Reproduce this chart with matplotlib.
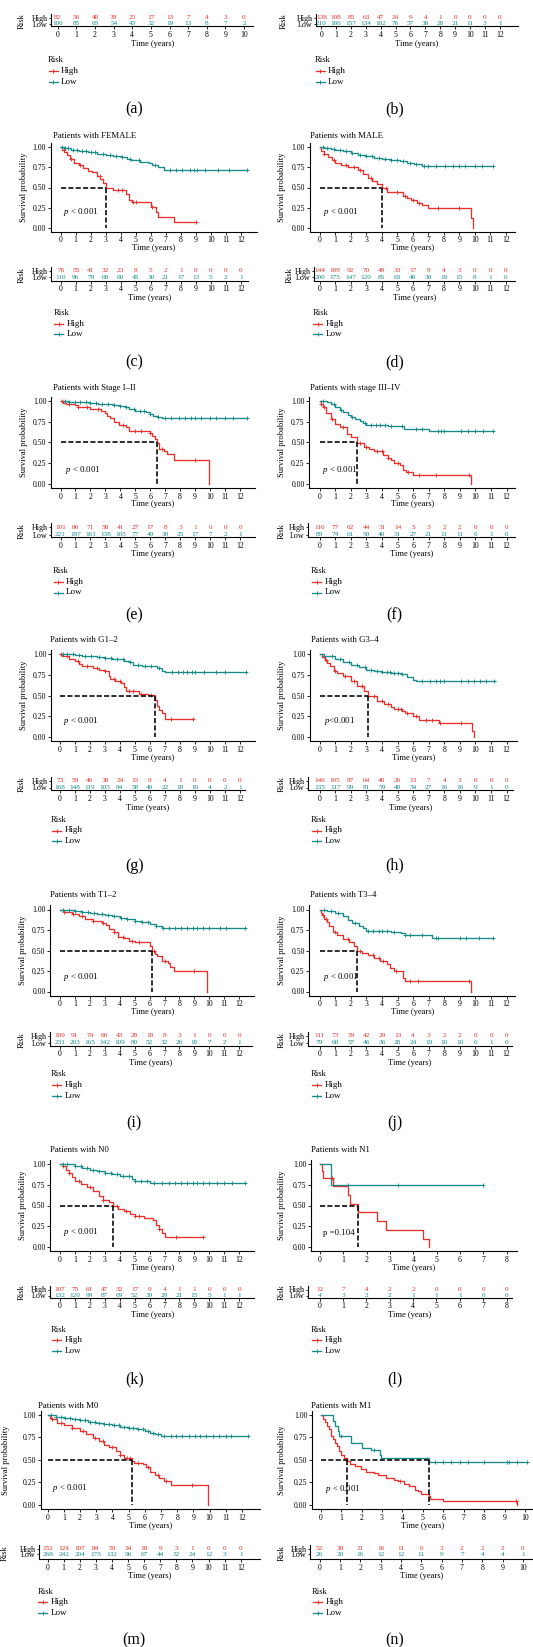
import matplotlib
matplotlib.use("Agg")
import matplotlib.pyplot as plt
import numpy as np

# ======================= DATA =======================
RISK_GROUPS = ["High", "Low"]

A_TMAX = 10
A_RISK_HIGH = [82, 56, 48, 39, 25, 17, 13, 7, 4, 3, 0]
A_RISK_LOW = [100, 85, 65, 54, 43, 32, 19, 13, 8, 7, 2]

B_TMAX = 12
B_RISK_HIGH = [138, 108, 85, 63, 47, 24, 9, 4, 1, 0, 0, 0, 0]
B_RISK_LOW = [210, 186, 157, 134, 102, 76, 57, 38, 28, 21, 11, 3, 1]

C_TITLE = "Patients with FEMALE"
C_TMAX = 12
C_HIGH_T = [0, 0.1, 0.25, 0.45, 0.62, 0.9, 1.2, 1.5, 1.8, 2.1, 2.4, 2.65, 2.8, 3.02, 3.5, 4.35, 4.55, 4.75, 6.0, 6.35, 6.5, 7.55, 9.0]
C_HIGH_S = [1.0, 0.97, 0.94, 0.90, 0.85, 0.81, 0.78, 0.74, 0.71, 0.69, 0.64, 0.60, 0.55, 0.49, 0.47, 0.42, 0.35, 0.32, 0.26, 0.20, 0.13, 0.065, 0.065]
C_LOW_T = [0, 0.3, 0.7, 1.2, 1.8, 2.4, 3.0, 3.5, 4.0, 4.4, 4.7, 5.3, 5.9, 6.1, 6.5, 6.9, 12.4]
C_LOW_S = [1.0, 0.99, 0.97, 0.96, 0.94, 0.92, 0.90, 0.89, 0.88, 0.86, 0.84, 0.82, 0.80, 0.78, 0.76, 0.72, 0.72]
C_HIGH_CENS = [0.2, 0.7, 1.3, 2.6, 3.8, 4.1, 4.8, 5.0, 6.1, 9.0]
C_LOW_CENS = [0.1, 0.3, 0.5, 0.8, 1.1, 1.4, 1.7, 2.0, 2.3, 2.8, 3.3, 3.7, 4.1, 4.6, 5.2, 6.3, 7.3, 7.7, 8.1, 8.6, 8.9, 9.1, 9.6, 10.5, 11.2, 12.4]
C_MEDIAN = [3.02]
C_PVAL = "$p$ < 0.001"
C_RISK_HIGH = [76, 55, 41, 32, 23, 8, 5, 2, 1, 0, 0, 0, 0]
C_RISK_LOW = [110, 96, 79, 68, 60, 45, 30, 21, 17, 13, 5, 2, 1]

D_TITLE = "Patients with MALE"
D_TMAX = 12
D_HIGH_T = [0, 0.1, 0.3, 0.55, 0.8, 1.0, 1.4, 1.8, 2.5, 2.8, 3.1, 3.4, 3.7, 4.04, 4.35, 5.35, 5.6, 5.9, 6.3, 6.6, 7.0, 7.3, 9.78, 9.9]
D_HIGH_S = [1.0, 0.96, 0.92, 0.88, 0.84, 0.81, 0.78, 0.75, 0.72, 0.67, 0.62, 0.58, 0.54, 0.49, 0.44, 0.40, 0.37, 0.34, 0.31, 0.28, 0.25, 0.24, 0.12, 0.0]
D_LOW_T = [0, 0.3, 0.7, 1.0, 1.5, 2.0, 2.5, 3.0, 3.5, 4.0, 4.6, 5.2, 5.6, 6.1, 6.6, 11.2]
D_LOW_S = [1.0, 0.99, 0.98, 0.97, 0.95, 0.93, 0.91, 0.89, 0.87, 0.85, 0.84, 0.83, 0.81, 0.79, 0.77, 0.77]
D_HIGH_CENS = [0.3, 0.9, 1.7, 2.2, 2.6, 3.3, 4.3, 5.0, 5.5, 6.0, 6.4, 7.6, 9.0]
D_LOW_CENS = [0.2, 0.5, 0.9, 1.3, 1.7, 2.1, 2.6, 3.0, 3.4, 3.8, 4.2, 4.6, 5.0, 5.4, 5.8, 6.2, 6.7, 7.0, 7.5, 8.1, 8.6, 9.0, 9.4, 10.0, 10.5, 11.2]
D_MEDIAN = [4.04]
D_PVAL = "$p$ < 0.001"
D_RISK_HIGH = [144, 109, 92, 70, 49, 33, 17, 9, 4, 3, 0, 0, 0]
D_RISK_LOW = [200, 175, 147, 120, 85, 63, 48, 30, 19, 15, 8, 1, 0]

E_TITLE = "Patients with Stage I\u2013II"
E_TMAX = 12
E_HIGH_T = [0, 0.15, 0.35, 1.0, 1.2, 1.5, 2.0, 2.7, 3.0, 3.1, 3.3, 3.6, 3.9, 4.4, 4.6, 5.7, 5.95, 6.15, 6.3, 6.45, 6.6, 6.9, 7.1, 7.6, 9.9]
E_HIGH_S = [1.0, 0.97, 0.96, 0.95, 0.93, 0.92, 0.90, 0.88, 0.85, 0.82, 0.79, 0.75, 0.71, 0.68, 0.64, 0.63, 0.61, 0.57, 0.54, 0.49, 0.42, 0.40, 0.36, 0.28, 0.0]
E_LOW_T = [0, 0.5, 1.5, 2.0, 2.5, 3.0, 3.5, 4.0, 4.3, 4.6, 5.0, 5.7, 6.0, 6.2, 6.5, 6.8, 12.5]
E_LOW_S = [1.0, 0.99, 0.98, 0.97, 0.965, 0.96, 0.95, 0.94, 0.92, 0.90, 0.88, 0.86, 0.84, 0.82, 0.80, 0.79, 0.79]
E_HIGH_CENS = [0.1, 0.6, 1.2, 1.8, 2.5, 4.2, 5.0, 5.4, 6.0, 6.8, 9.0]
E_LOW_CENS = [0.3, 0.6, 1.0, 1.3, 1.7, 2.0, 2.4, 2.8, 3.2, 3.6, 4.0, 4.4, 4.9, 5.3, 5.6, 6.0, 6.5, 7.0, 7.4, 7.9, 8.3, 8.7, 9.0, 9.4, 10.0, 10.4, 11.0, 11.5, 12.5]
E_MEDIAN = [6.45]
E_PVAL = "$p$ < 0.001"
E_RISK_HIGH = [101, 86, 71, 58, 41, 27, 17, 8, 3, 1, 0, 0, 0]
E_RISK_LOW = [221, 197, 161, 138, 105, 77, 49, 30, 25, 17, 7, 2, 1]

F_TITLE = "Patients with stage III\u2013IV"
F_TMAX = 12
F_HIGH_T = [0, 0.1, 0.22, 0.44, 0.7, 0.98, 1.3, 1.75, 2.0, 2.4, 2.84, 3.2, 3.5, 4.04, 4.36, 4.6, 4.8, 5.13, 5.35, 5.56, 6.0, 9.71]
F_HIGH_S = [1.0, 0.96, 0.92, 0.85, 0.78, 0.72, 0.68, 0.60, 0.56, 0.49, 0.44, 0.42, 0.40, 0.35, 0.31, 0.28, 0.245, 0.22, 0.16, 0.14, 0.11, 0.0]
F_LOW_T = [0, 0.45, 0.7, 1.0, 1.3, 1.5, 1.8, 2.0, 2.3, 2.6, 2.8, 3.0, 4.4, 5.0, 5.4, 7.05, 11.1]
F_LOW_S = [1.0, 0.99, 0.96, 0.93, 0.89, 0.86, 0.83, 0.80, 0.78, 0.76, 0.73, 0.71, 0.70, 0.69, 0.66, 0.63, 0.63]
F_HIGH_CENS = [0.1, 0.3, 0.8, 1.5, 2.6, 3.0, 3.7, 4.0, 4.4, 5.0, 5.7, 6.4, 7.5, 9.6]
F_LOW_CENS = [0.2, 0.9, 1.4, 2.1, 2.9, 3.3, 3.6, 3.9, 4.2, 4.6, 5.3, 6.2, 6.6, 7.6, 7.8, 8.0, 9.1, 9.5, 10.0, 10.5, 11.1]
F_MEDIAN = [2.4]
F_PVAL = "$p$ < 0.001"
F_RISK_HIGH = [116, 77, 62, 44, 31, 14, 5, 3, 2, 2, 0, 0, 0]
F_RISK_LOW = [89, 74, 61, 50, 40, 31, 27, 21, 11, 11, 6, 1, 0]

G_TITLE = "Patients with G1\u20132"
G_TMAX = 12
G_HIGH_T = [0, 0.15, 0.3, 0.6, 1.0, 1.3, 1.5, 2.0, 2.2, 2.6, 3.0, 3.25, 3.35, 3.7, 4.1, 4.25, 4.4, 5.3, 5.9, 6.35, 6.5, 6.6, 6.8, 7.0, 8.9]
G_HIGH_S = [1.0, 0.98, 0.97, 0.94, 0.91, 0.88, 0.86, 0.85, 0.83, 0.81, 0.79, 0.74, 0.70, 0.67, 0.65, 0.60, 0.55, 0.52, 0.51, 0.45, 0.38, 0.33, 0.29, 0.22, 0.22]
G_LOW_T = [0, 0.5, 1.0, 1.5, 2.0, 2.5, 3.0, 3.5, 4.3, 4.6, 4.9, 5.5, 6.2, 6.5, 6.8, 7.0, 12.4]
G_LOW_S = [1.0, 0.995, 0.99, 0.98, 0.97, 0.96, 0.95, 0.94, 0.92, 0.90, 0.87, 0.86, 0.85, 0.83, 0.80, 0.78, 0.78]
G_HIGH_CENS = [0.1, 0.5, 1.2, 1.8, 2.5, 3.0, 3.6, 4.0, 4.6, 4.9, 5.4, 6.1, 7.4, 8.9]
G_LOW_CENS = [0.2, 0.5, 0.9, 1.3, 1.7, 2.1, 2.6, 3.0, 3.4, 3.8, 4.2, 4.7, 5.2, 5.7, 6.1, 6.6, 7.5, 7.9, 8.2, 8.5, 8.8, 9.0, 9.6, 10.4, 11.0, 12.4]
G_MEDIAN = [6.35]
G_PVAL = "$p$ < 0.001"
G_RISK_HIGH = [73, 59, 46, 38, 24, 15, 9, 4, 1, 0, 0, 0, 0]
G_RISK_LOW = [168, 148, 119, 103, 84, 58, 40, 22, 18, 10, 4, 2, 1]

H_TITLE = "Patients with G3\u20134"
H_TMAX = 12
H_HIGH_T = [0, 0.15, 0.33, 0.5, 0.65, 0.9, 1.1, 1.5, 2.0, 2.4, 2.85, 3.1, 3.7, 4.15, 4.6, 4.8, 5.3, 5.5, 6.0, 6.35, 7.65, 9.75, 9.9]
H_HIGH_S = [1.0, 0.96, 0.93, 0.89, 0.85, 0.80, 0.77, 0.73, 0.67, 0.61, 0.55, 0.49, 0.44, 0.40, 0.36, 0.34, 0.31, 0.29, 0.26, 0.21, 0.17, 0.08, 0.0]
H_LOW_T = [0, 0.3, 0.5, 1.0, 1.5, 2.0, 2.5, 3.0, 3.5, 4.0, 4.6, 5.2, 5.6, 6.0, 6.2, 11.25]
H_LOW_S = [1.0, 0.98, 0.97, 0.94, 0.90, 0.87, 0.84, 0.81, 0.80, 0.78, 0.77, 0.76, 0.72, 0.69, 0.68, 0.68]
H_HIGH_CENS = [0.4, 1.0, 1.6, 2.2, 2.7, 3.5, 4.0, 4.4, 5.0, 5.2, 5.6, 6.2, 6.8, 7.2, 7.7, 9.1]
H_LOW_CENS = [0.3, 0.8, 1.3, 1.9, 2.4, 2.9, 3.3, 3.7, 4.0, 4.3, 4.5, 4.8, 5.0, 5.3, 6.6, 7.1, 7.5, 7.7, 8.0, 9.1, 9.5, 9.9, 10.3, 10.7, 11.2]
H_MEDIAN = [3.1]
H_PVAL = "$p$<0.001"
H_RISK_HIGH = [146, 105, 87, 64, 48, 26, 13, 7, 4, 3, 0, 0, 0]
H_RISK_LOW = [135, 117, 99, 81, 59, 48, 34, 27, 16, 16, 9, 1, 0]

I_TITLE = "Patients with T1\u20132"
I_TMAX = 12
I_HIGH_T = [0, 0.3, 0.8, 1.3, 1.7, 2.2, 2.8, 3.1, 3.3, 3.6, 3.9, 4.3, 4.6, 5.0, 6.0, 6.15, 6.35, 6.5, 6.8, 7.2, 7.4, 7.65, 9.85]
I_HIGH_S = [1.0, 0.97, 0.95, 0.92, 0.88, 0.86, 0.84, 0.81, 0.76, 0.72, 0.67, 0.65, 0.61, 0.60, 0.56, 0.49, 0.46, 0.43, 0.37, 0.35, 0.30, 0.25, 0.0]
I_LOW_T = [0, 0.5, 1.0, 1.5, 2.0, 2.5, 3.0, 3.5, 4.0, 4.5, 5.0, 5.5, 6.0, 6.4, 6.8, 12.4]
I_LOW_S = [1.0, 0.99, 0.98, 0.97, 0.96, 0.945, 0.93, 0.92, 0.90, 0.88, 0.86, 0.85, 0.82, 0.80, 0.78, 0.78]
I_HIGH_CENS = [0.3, 0.9, 1.5, 2.2, 2.9, 3.6, 4.2, 4.8, 5.3, 6.3, 7.0, 9.0]
I_LOW_CENS = [0.2, 0.6, 1.0, 1.5, 1.9, 2.3, 2.8, 3.2, 3.6, 4.1, 4.5, 5.0, 5.5, 5.9, 6.4, 6.9, 7.3, 7.7, 8.1, 8.5, 8.9, 9.2, 9.6, 10.0, 10.7, 11.1, 12.4]
I_MEDIAN = [6.15]
I_PVAL = "$p$ < 0.001"
I_RISK_HIGH = [109, 91, 74, 60, 43, 28, 18, 8, 3, 1, 0, 0, 0]
I_RISK_LOW = [231, 203, 165, 142, 109, 80, 52, 32, 26, 18, 7, 2, 1]

J_TITLE = "Patients with T3\u20134"
J_TMAX = 12
J_HIGH_T = [0, 0.08, 0.15, 0.3, 0.45, 0.6, 0.85, 1.1, 1.5, 1.9, 2.2, 2.4, 2.7, 3.1, 3.5, 3.9, 4.3, 4.5, 4.8, 5.35, 5.5, 9.7]
J_HIGH_S = [1.0, 0.96, 0.93, 0.89, 0.85, 0.80, 0.72, 0.69, 0.64, 0.60, 0.56, 0.49, 0.47, 0.44, 0.41, 0.37, 0.34, 0.29, 0.245, 0.17, 0.13, 0.0]
J_LOW_T = [0, 0.5, 1.0, 1.5, 1.8, 2.1, 2.5, 2.8, 3.0, 4.6, 5.2, 5.5, 7.2, 11.1]
J_LOW_S = [1.0, 0.98, 0.96, 0.92, 0.87, 0.83, 0.80, 0.77, 0.74, 0.72, 0.71, 0.69, 0.65, 0.65]
J_HIGH_CENS = [0.2, 0.4, 1.0, 1.8, 2.6, 3.4, 3.8, 4.1, 4.9, 5.8, 6.3, 9.6]
J_LOW_CENS = [0.3, 0.7, 1.2, 2.3, 3.1, 3.4, 3.8, 4.0, 4.3, 4.8, 5.5, 5.8, 6.6, 7.5, 7.6, 9.0, 9.4, 10.2, 11.1]
J_MEDIAN = [2.4]
J_PVAL = "$p$ < 0.001"
J_RISK_HIGH = [111, 73, 59, 42, 29, 13, 4, 3, 2, 2, 0, 0, 0]
J_RISK_LOW = [79, 68, 57, 46, 36, 28, 24, 19, 10, 10, 6, 1, 0]

K_TITLE = "Patients with N0"
K_TMAX = 12
K_HIGH_T = [0, 0.2, 0.4, 0.6, 0.8, 1.0, 1.4, 1.8, 2.2, 2.6, 2.9, 3.3, 3.57, 3.9, 4.3, 4.7, 5.0, 5.6, 6.2, 6.4, 6.6, 6.8, 7.0, 9.6]
K_HIGH_S = [1.0, 0.97, 0.93, 0.89, 0.84, 0.79, 0.76, 0.72, 0.68, 0.62, 0.57, 0.54, 0.49, 0.46, 0.43, 0.40, 0.37, 0.35, 0.32, 0.27, 0.22, 0.17, 0.12, 0.12]
K_LOW_T = [0, 0.5, 1.0, 1.5, 2.0, 2.5, 3.0, 3.5, 4.0, 4.5, 4.8, 5.0, 6.0, 12.4]
K_LOW_S = [1.0, 0.995, 0.98, 0.95, 0.93, 0.91, 0.89, 0.88, 0.86, 0.85, 0.82, 0.80, 0.77, 0.77]
K_HIGH_CENS = [0.2, 0.6, 1.3, 2.0, 2.9, 3.8, 4.4, 5.0, 5.3, 6.6, 7.8, 9.6]
K_LOW_CENS = [0.2, 0.5, 1.0, 1.4, 1.8, 2.2, 2.6, 3.0, 3.4, 3.8, 4.2, 4.6, 5.0, 5.4, 5.8, 6.3, 6.8, 7.3, 7.7, 8.1, 8.5, 8.9, 9.2, 9.6, 10.0, 10.5, 11.0, 11.5, 12.4]
K_MEDIAN = [3.57]
K_PVAL = "$p$ < 0.001"
K_RISK_HIGH = [107, 75, 61, 47, 32, 17, 9, 4, 1, 1, 0, 0, 0]
K_RISK_LOW = [132, 120, 99, 87, 69, 52, 39, 29, 21, 15, 5, 1, 1]

L_TITLE = "Patients with N1"
L_TMAX = 8
L_HIGH_T = [0, 0.09, 0.14, 0.57, 1.19, 1.29, 1.61, 2.43, 2.83, 4.4, 4.69]
L_HIGH_S = [1.0, 0.92, 0.83, 0.73, 0.625, 0.52, 0.42, 0.31, 0.21, 0.10, 0.0]
L_LOW_T = [0, 0.46, 7.0]
L_LOW_S = [1.0, 0.75, 0.75]
L_HIGH_CENS = [0.5]
L_LOW_CENS = [1.2, 3.35, 7.0]
L_MEDIAN = [1.61]
L_PVAL = "p =0.104"
L_RISK_HIGH = [12, 7, 4, 2, 2, 0, 0, 0, 0]
L_RISK_LOW = [4, 3, 2, 2, 1, 1, 1, 0, 0]

M_TITLE = "Patients with M0"
M_TMAX = 12
M_HIGH_T = [0, 0.15, 0.3, 0.6, 1.0, 1.5, 2.0, 2.4, 2.8, 3.2, 3.5, 3.8, 4.2, 4.5, 4.7, 5.24, 5.35, 5.9, 6.1, 6.3, 6.6, 6.9, 7.2, 7.6, 9.9]
M_HIGH_S = [1.0, 0.97, 0.95, 0.91, 0.89, 0.86, 0.82, 0.79, 0.74, 0.71, 0.67, 0.64, 0.60, 0.56, 0.52, 0.49, 0.47, 0.45, 0.42, 0.37, 0.33, 0.30, 0.27, 0.22, 0.0]
M_LOW_T = [0, 0.5, 1.0, 1.5, 2.0, 2.5, 3.0, 3.5, 4.0, 4.5, 5.0, 5.5, 6.0, 6.3, 6.6, 7.0, 12.4]
M_LOW_S = [1.0, 0.98, 0.97, 0.96, 0.94, 0.92, 0.91, 0.90, 0.89, 0.87, 0.85, 0.84, 0.82, 0.80, 0.79, 0.77, 0.77]
M_HIGH_CENS = [0.3, 0.8, 1.5, 2.2, 2.9, 3.4, 4.0, 4.5, 4.9, 5.1, 5.6, 6.2, 6.8, 7.3, 8.9]
M_LOW_CENS = [0.2, 0.5, 0.8, 1.1, 1.4, 1.7, 2.0, 2.3, 2.6, 2.9, 3.2, 3.5, 3.8, 4.1, 4.4, 4.7, 5.0, 5.3, 5.6, 5.9, 6.2, 6.5, 6.8, 7.2, 7.6, 7.9, 8.3, 8.7, 9.1, 9.4, 9.8, 10.2, 10.6, 11.0, 11.3, 12.4]
M_MEDIAN = [5.24]
M_PVAL = "$p$ < 0.001"
M_RISK_HIGH = [152, 124, 107, 84, 59, 34, 18, 9, 3, 1, 0, 0, 0]
M_RISK_LOW = [268, 242, 204, 175, 132, 96, 67, 44, 32, 24, 12, 3, 1]

N_TITLE = "Patients with M1"
N_TMAX = 10
N_HIGH_T = [0, 0.1, 0.2, 0.3, 0.4, 0.5, 0.6, 0.7, 0.8, 0.9, 1.0, 1.15, 1.29, 1.45, 1.7, 1.95, 2.2, 2.6, 2.8, 3.2, 3.6, 3.8, 4.1, 4.3, 4.6, 4.75, 4.9, 5.3, 5.35, 6.0, 9.6]
N_HIGH_S = [1.0, 0.96, 0.92, 0.88, 0.84, 0.77, 0.73, 0.69, 0.65, 0.60, 0.56, 0.52, 0.49, 0.45, 0.43, 0.40, 0.37, 0.35, 0.33, 0.30, 0.28, 0.26, 0.23, 0.21, 0.17, 0.15, 0.12, 0.10, 0.065, 0.045, 0.0]
N_LOW_T = [0, 0.58, 0.7, 0.85, 0.92, 1.48, 2.0, 2.45, 2.9, 2.95, 5.3, 10.1]
N_LOW_S = [1.0, 0.93, 0.88, 0.82, 0.77, 0.69, 0.63, 0.61, 0.56, 0.52, 0.475, 0.475]
N_HIGH_CENS = [3.9, 9.55]
N_LOW_CENS = [1.0, 2.6, 5.6, 6.0, 6.4, 6.8, 7.2, 8.0, 9.1, 9.2, 9.6, 10.1]
N_MEDIAN = [1.29, 5.3]
N_PVAL = "$p$ < 0.001"
N_RISK_HIGH = [52, 30, 21, 16, 11, 6, 3, 2, 2, 2, 0]
N_RISK_LOW = [26, 20, 16, 12, 12, 11, 9, 7, 4, 4, 1]

PANEL_LABELS = ["(a)", "(b)", "(c)", "(d)", "(e)", "(f)", "(g)", "(h)",
                "(i)", "(j)", "(k)", "(l)", "(m)", "(n)"]

# ======================= STYLE / LAYOUT =======================
W, H, DPI = 533, 1647, 100
RED = "#E8302C"
TEAL = "#168B88"
plt.rcParams["font.family"] = ["Liberation Serif", "DejaVu Serif"]
plt.rcParams["mathtext.fontset"] = "custom"
plt.rcParams["mathtext.it"] = "Liberation Serif:italic"
plt.rcParams["mathtext.rm"] = "Liberation Serif"

# vertical anchors (pixels) per row
ROWS = {
    0: dict(title=-116, s1=-103, s0=-21, hi=17.7, lo=23.8, line=26.2, risk=60.5, lhi=71.4, llo=82.3, lab=109.5),
    1: dict(title=136, s1=147.3, s0=227.7, hi=271, lo=277.3, line=280.7, risk=313.3, lhi=324.3, llo=334, lab=362),
    2: dict(title=387.9, s1=400.8, s0=483.7, hi=527.2, lo=534.5, line=537, risk=570.7, lhi=581.6, llo=592.5, lab=615.5),
    3: dict(title=640.3, s1=653.9, s0=737.2, hi=781, lo=787.5, line=790, risk=820, lhi=830.5, llo=841, lab=865.7),
    4: dict(title=894.6, s1=909.5, s0=991.5, hi=1035.7, lo=1042.8, line=1045.5, risk=1074.3, lhi=1084.8, llo=1095.7, lab=1122.9),
    5: dict(title=1150, s1=1164, s0=1247, hi=1289.5, lo=1295.5, line=1297.5, risk=1330, lhi=1340.3, llo=1351.2, lab=1379),
    6: dict(title=1405.6, s1=1415, s0=1504.8, hi=1548.7, lo=1554, line=1558.9, risk=1592.2, lhi=1602.4, llo=1613.3, lab=1640.5),
}

# horizontal layout per panel: (spine, t0 px, tmax px, end)
LAY = {
    "a": dict(row=0, surv=None, tab=(51, 57.8, 244, 253.3), tx=None, lx=47.6, ylx=None, rlx=22, lab_x=134.3),
    "b": dict(row=0, surv=None, tab=(316, 321.3, 499.7, 518), tx=None, lx=314.5, ylx=None, rlx=284, lab_x=394.4),
    "c": dict(row=1, surv=(50.7, 60.7, 240.7, 256.7), tab=(50.7, 60.7, 240.7, 248), tx=53.4, lx=53.3, ylx=24, rlx=22, lab_x=134.3, pt=(0.18, 0.19)),
    "d": dict(row=1, surv=(309.7, 319.7, 505.7, 515.3), tab=(314, 319.7, 505.7, 515), tx=310, lx=312.3, ylx=282, rlx=290, lab_x=394.4, pt=(0.21, 0.19)),
    "e": dict(row=2, surv=(51, 60.5, 240, 255), tab=(51, 60.5, 240, 255), tx=52.7, lx=52.7, ylx=24, rlx=22, lab_x=134.3, pt=(0.27, 0.17)),
    "f": dict(row=2, surv=(309.4, 319.6, 506.6, 515), tab=(307.7, 319.6, 506.6, 515), tx=310, lx=311, ylx=282, rlx=282, lab_x=394.4, pt=(0.17, 0.17)),
    "g": dict(row=3, surv=(51, 59.8, 240, 255), tab=(51, 59.8, 240, 245), tx=50.3, lx=51, ylx=24, rlx=22, lab_x=134.3, pt=(0.2, 0.2)),
    "h": dict(row=3, surv=(310, 319.6, 506.6, 516.8), tab=(308, 319.6, 506.6, 513), tx=311, lx=311, ylx=282, rlx=282, lab_x=394.4, pt=(0.26, 0.2)),
    "i": dict(row=4, surv=(50.3, 59.8, 239.3, 254.3), tab=(50.3, 59.8, 239.3, 251.6), tx=50.3, lx=51, ylx=23, rlx=22, lab_x=134.3, pt=(0.2, 0.18)),
    "j": dict(row=4, surv=(309.4, 319.6, 506.6, 515), tab=(307.7, 319.6, 506.6, 511.7), tx=310, lx=311, ylx=282, rlx=282, lab_x=394.4, pt=(0.2, 0.18)),
    "k": dict(row=5, surv=(50.3, 59.8, 239.3, 254.3), tab=(50.3, 59.8, 239.3, 254), tx=50.3, lx=51, ylx=23, rlx=22, lab_x=134.3, pt=(0.2, 0.18)),
    "l": dict(row=5, surv=(311, 320, 506.7, 516.8), tab=(307.7, 319.6, 506.6, 511.7), tx=311, lx=311, ylx=282, rlx=282, lab_x=394.4, pt=(0.14, 0.17)),
    "m": dict(row=6, surv=(40.8, 47.6, 242, 260), tab=(39, 47.6, 240.7, 260), tx=38, lx=37.4, ylx=6, rlx=5, lab_x=134.3, pt=(0.25, 0.19)),
    "n": dict(row=6, surv=(312, 320.7, 525, 533), tab=(310, 319.6, 522.9, 533), tx=311, lx=312, ylx=282, rlx=282, lab_x=394.4, pt=(0.2, 0.18)),
}

PANELS = {
    "a": dict(tmax=A_TMAX, risk=(A_RISK_HIGH, A_RISK_LOW)),
    "b": dict(tmax=B_TMAX, risk=(B_RISK_HIGH, B_RISK_LOW)),
    "c": dict(title=C_TITLE, tmax=C_TMAX, high=(C_HIGH_T, C_HIGH_S, C_HIGH_CENS), low=(C_LOW_T, C_LOW_S, C_LOW_CENS), med=C_MEDIAN, p=C_PVAL, risk=(C_RISK_HIGH, C_RISK_LOW)),
    "d": dict(title=D_TITLE, tmax=D_TMAX, high=(D_HIGH_T, D_HIGH_S, D_HIGH_CENS), low=(D_LOW_T, D_LOW_S, D_LOW_CENS), med=D_MEDIAN, p=D_PVAL, risk=(D_RISK_HIGH, D_RISK_LOW)),
    "e": dict(title=E_TITLE, tmax=E_TMAX, high=(E_HIGH_T, E_HIGH_S, E_HIGH_CENS), low=(E_LOW_T, E_LOW_S, E_LOW_CENS), med=E_MEDIAN, p=E_PVAL, risk=(E_RISK_HIGH, E_RISK_LOW)),
    "f": dict(title=F_TITLE, tmax=F_TMAX, high=(F_HIGH_T, F_HIGH_S, F_HIGH_CENS), low=(F_LOW_T, F_LOW_S, F_LOW_CENS), med=F_MEDIAN, p=F_PVAL, risk=(F_RISK_HIGH, F_RISK_LOW)),
    "g": dict(title=G_TITLE, tmax=G_TMAX, high=(G_HIGH_T, G_HIGH_S, G_HIGH_CENS), low=(G_LOW_T, G_LOW_S, G_LOW_CENS), med=G_MEDIAN, p=G_PVAL, risk=(G_RISK_HIGH, G_RISK_LOW)),
    "h": dict(title=H_TITLE, tmax=H_TMAX, high=(H_HIGH_T, H_HIGH_S, H_HIGH_CENS), low=(H_LOW_T, H_LOW_S, H_LOW_CENS), med=H_MEDIAN, p=H_PVAL, risk=(H_RISK_HIGH, H_RISK_LOW)),
    "i": dict(title=I_TITLE, tmax=I_TMAX, high=(I_HIGH_T, I_HIGH_S, I_HIGH_CENS), low=(I_LOW_T, I_LOW_S, I_LOW_CENS), med=I_MEDIAN, p=I_PVAL, risk=(I_RISK_HIGH, I_RISK_LOW)),
    "j": dict(title=J_TITLE, tmax=J_TMAX, high=(J_HIGH_T, J_HIGH_S, J_HIGH_CENS), low=(J_LOW_T, J_LOW_S, J_LOW_CENS), med=J_MEDIAN, p=J_PVAL, risk=(J_RISK_HIGH, J_RISK_LOW)),
    "k": dict(title=K_TITLE, tmax=K_TMAX, high=(K_HIGH_T, K_HIGH_S, K_HIGH_CENS), low=(K_LOW_T, K_LOW_S, K_LOW_CENS), med=K_MEDIAN, p=K_PVAL, risk=(K_RISK_HIGH, K_RISK_LOW)),
    "l": dict(title=L_TITLE, tmax=L_TMAX, high=(L_HIGH_T, L_HIGH_S, L_HIGH_CENS), low=(L_LOW_T, L_LOW_S, L_LOW_CENS), med=L_MEDIAN, p=L_PVAL, risk=(L_RISK_HIGH, L_RISK_LOW)),
    "m": dict(title=M_TITLE, tmax=M_TMAX, high=(M_HIGH_T, M_HIGH_S, M_HIGH_CENS), low=(M_LOW_T, M_LOW_S, M_LOW_CENS), med=M_MEDIAN, p=M_PVAL, risk=(M_RISK_HIGH, M_RISK_LOW)),
    "n": dict(title=N_TITLE, tmax=N_TMAX, high=(N_HIGH_T, N_HIGH_S, N_HIGH_CENS), low=(N_LOW_T, N_LOW_S, N_LOW_CENS), med=N_MEDIAN, p=N_PVAL, risk=(N_RISK_HIGH, N_RISK_LOW)),
}

FS_TITLE, FS_LABEL, FS_TICK, FS_NUM, FS_HL, FS_PANEL = 6.3, 6.1, 5.6, 5.2, 5.9, 11.5
LW_CURVE, LW_SPINE = 0.95, 0.8

fig = plt.figure(figsize=(W / DPI, H / DPI), dpi=DPI)


def px_axes(xs, xe, ytop, ybot):
    ax = fig.add_axes([xs / W, 1 - ybot / H, (xe - xs) / W, (ybot - ytop) / H])
    ax.patch.set_alpha(0)
    for sp in ("top", "right"):
        ax.spines[sp].set_visible(False)
    for sp in ("left", "bottom"):
        ax.spines[sp].set_linewidth(LW_SPINE)
    ax.tick_params(direction="out", length=1.9, width=0.6, labelsize=FS_TICK, pad=1.5)
    return ax


def set_xscale(ax, geom, tmax):
    xs, x0, x1, xe = geom
    u = (x1 - x0) / tmax
    ax.set_xlim((xs - x0) / u, (xe - x0) / u)
    ax.set_xticks(np.arange(0, tmax + 1))


def step_value(T, S, t):
    idx = np.searchsorted(np.asarray(T), np.asarray(t), side="right") - 1
    return np.asarray(S)[np.clip(idx, 0, len(S) - 1)]


texts = []  # (x, y, s, kw) drawn on overlay in pixel coordinates

for key, lay in LAY.items():
    P = PANELS[key]
    R = ROWS[lay["row"]]
    tmax = P["tmax"]

    # ---------- survival plot ----------
    if lay["surv"] is not None:
        s1, s0 = R["s1"], R["s0"]
        u = s0 - s1
        ytop, ybot = s1 - 0.05 * u, s0 + 0.05 * u
        ax = px_axes(lay["surv"][0], lay["surv"][3], ytop, ybot)
        set_xscale(ax, lay["surv"], tmax)
        ax.set_ylim(-0.05, 1.05)
        ax.set_yticks([0, 0.25, 0.5, 0.75, 1.0])
        ax.set_yticklabels(["0.00", "0.25", "0.50", "0.75", "1.00"])
        for (T, S, C), col in ((P["high"], RED), (P["low"], TEAL)):
            ax.step(T, S, where="post", color=col, lw=LW_CURVE, zorder=3)
            ax.plot(C, step_value(T, S, C), ls="none", marker="+", ms=3.3,
                    mew=0.65, color=col, zorder=4)
        meds = P["med"]
        ax.plot([0, max(meds)], [0.5, 0.5], color="black", lw=1.15,
                dashes=(3.2, 1.4), zorder=5)
        for m in meds:
            ax.plot([m, m], [0.5, 0], color="black", lw=1.15, dashes=(3.2, 1.4), zorder=5)
        ax.text(lay["pt"][0], lay["pt"][1], P["p"], fontsize=FS_LABEL + 0.2,
                ha="left", va="center")
        xs, _, _, xe = lay["surv"]
        texts.append((lay["tx"], R["title"], P["title"], dict(fontsize=FS_TITLE, ha="left", va="center")))
        texts.append((lay["ylx"], (ytop + ybot) / 2, "Survival probability",
                      dict(fontsize=FS_LABEL, ha="center", va="center", rotation=90)))
        texts.append(((xs + xe) / 2, ybot + 16.5, "Time (years)",
                      dict(fontsize=FS_LABEL, ha="center", va="center")))
    elif key == "a":
        xs, _, _, xe = lay["tab"]
        texts.append(((xs + xe) / 2, -3.5, "Time (years)",
                      dict(fontsize=FS_LABEL, ha="center", va="center")))

    # ---------- risk table ----------
    hi, lo, line = R["hi"], R["lo"], R["line"]
    u = lo - hi
    tax = px_axes(lay["tab"][0], lay["tab"][3], hi - 4, line)
    set_xscale(tax, lay["tab"], tmax)
    tax.set_ylim(-(line - lo) / u, 1 + 4 / u)
    tax.set_yticks([1, 0])
    tax.set_yticklabels(RISK_GROUPS, fontsize=FS_HL)
    tax.tick_params(axis="y", pad=0.8, length=1.6)
    for row_vals, yv, col in ((P["risk"][0], 1, RED), (P["risk"][1], 0, TEAL)):
        for t, n in enumerate(row_vals):
            tax.text(t, yv, str(n), color=col, fontsize=FS_NUM, ha="center",
                     va="center", zorder=5)
    txs, _, _, txe = lay["tab"]
    texts.append((lay["rlx"], (hi + line) / 2 - 1, "Risk",
                  dict(fontsize=FS_LABEL, ha="center", va="center", rotation=90)))
    texts.append(((txs + txe) / 2, line + 17.5, "Time (years)",
                  dict(fontsize=FS_LABEL, ha="center", va="center")))

    # ---------- legend ----------
    texts.append((lay["lx"], R["risk"], "Risk", dict(fontsize=FS_LABEL, ha="left", va="center")))
    texts.append((lay["lx"] + 13.5, R["lhi"], RISK_GROUPS[0], dict(fontsize=FS_LABEL + 0.4, ha="left", va="center")))
    texts.append((lay["lx"] + 13.5, R["llo"], RISK_GROUPS[1], dict(fontsize=FS_LABEL + 0.4, ha="left", va="center")))
    lay["_leg"] = (lay["lx"], R["lhi"], R["llo"])

    # ---------- panel label ----------
    texts.append((lay["lab_x"], R["lab"], PANEL_LABELS["abcdefghijklmn".index(key)],
                  dict(fontsize=FS_PANEL, ha="center", va="center")))

# overlay in pixel coordinates for free text and legend keys
ov = fig.add_axes([0, 0, 1, 1])
ov.set_xlim(0, W)
ov.set_ylim(H, 0)
ov.axis("off")
for x, y, s, kw in texts:
    ov.text(x, y, s, **kw)
for key, lay in LAY.items():
    lx, yh, yl = lay["_leg"]
    for y, col in ((yh, RED), (yl, TEAL)):
        ov.plot([lx + 1, lx + 10], [y, y], color=col, lw=LW_CURVE)
        ov.plot([lx + 5.5], [y], marker="+", ms=3.3, mew=0.65, color=col)

fig.savefig("out.png", dpi=DPI)
